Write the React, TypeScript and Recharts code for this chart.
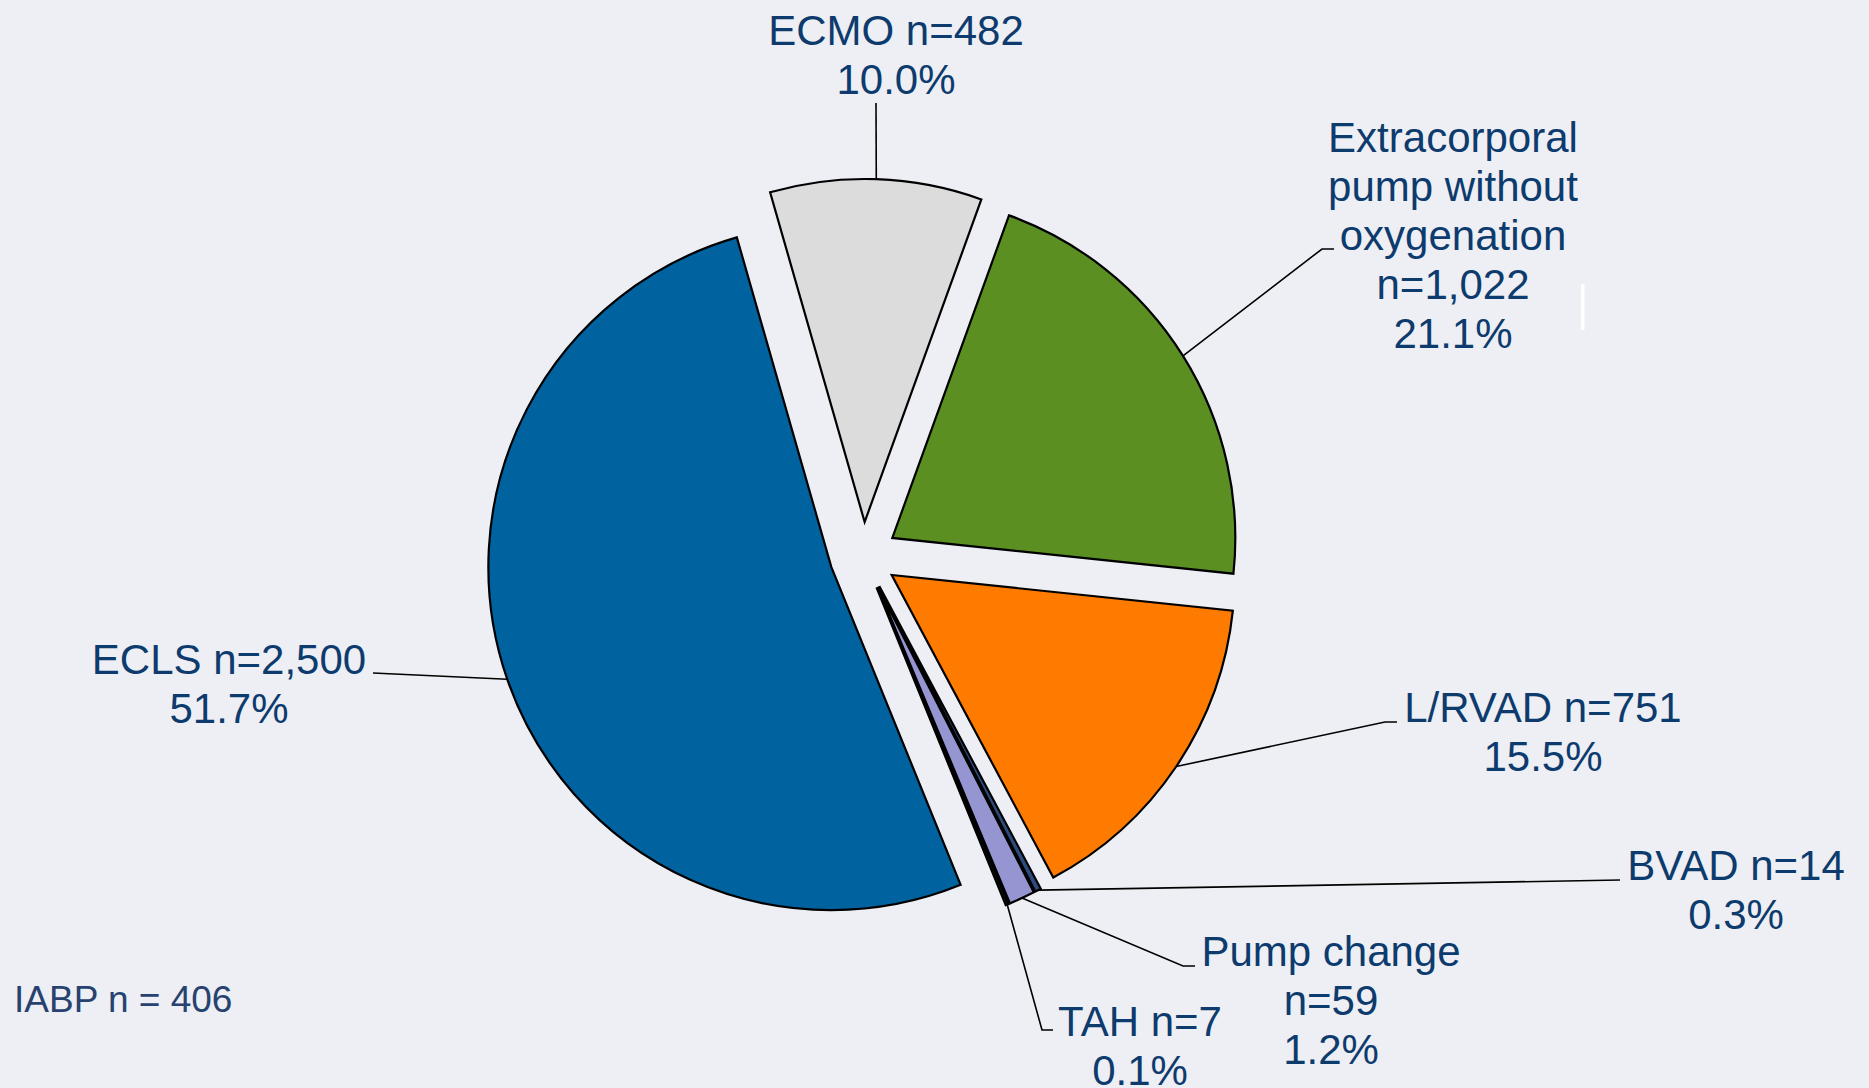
import React from 'react';
import { PieChart, Pie, Sector } from 'recharts';

// Pump types, clockwise from the top
const categories = ['ECMO', 'Extracorporal pump without oxygenation', 'L/RVAD', 'BVAD', 'Pump change', 'TAH', 'ECLS'];
const counts = [482, 1022, 751, 14, 59, 7, 2500];
const nameLines = [['ECMO'], ['Extracorporal', 'pump without', 'oxygenation'], ['L/RVAD'], ['BVAD'], ['Pump change'], ['TAH'], ['ECLS']];
const countOnOwnLine = [false, true, false, false, true, false, false];
const footnote = 'IABP n = 406';

const colors = ['#dcdcdc', '#5b8f22', '#ff7b00', '#2d4b7c', '#9595d1', '#111111', '#0063a0'];

// label layout (text anchor = centre x / first baseline, leader elbow, short tail)
const labelAnchors = [
  { x: 896, y: 45 },
  { x: 1453, y: 152 },
  { x: 1543, y: 722 },
  { x: 1736, y: 880 },
  { x: 1331, y: 966 },
  { x: 1140, y: 1036 },
  { x: 229, y: 674 },
];
const leaderElbows = [[876, 103], [1322, 249], [1385, 722], [1620, 880], [1183, 966], [1042, 1030], [373, 673]];
const leaderTails = [null, 1334, 1397, null, 1195, 1053, null];

const W = 1869;
const H = 1088;
const EXPLODE = 34;
const LINE_H = 49;
const TEXT_COLOR = '#0d3b6e';
const FONT = '"Liberation Sans", Arial, sans-serif';

const data = categories.map((name, i) => ({ name, value: counts[i] }));

function labelText(i: number, percent: number): string[] {
  const names = nameLines[i];
  const n = `n=${counts[i].toLocaleString('en-US')}`;
  const pct = `${(percent * 100).toFixed(1)}%`;
  if (countOnOwnLine[i]) return [...names, n, pct];
  return [...names.slice(0, -1), `${names[names.length - 1]} ${n}`, pct];
}

// the exploded slice, its leader line and its label
const renderSlice = (props: any) => {
  const { cx, cy, innerRadius, outerRadius, startAngle, endAngle, index, percent } = props;
  const mid = (startAngle + endAngle) / 2;
  const rad = (-mid * Math.PI) / 180;
  const ox = cx + EXPLODE * Math.cos(rad);
  const oy = cy + EXPLODE * Math.sin(rad);
  const ax = ox + outerRadius * Math.cos(rad);
  const ay = oy + outerRadius * Math.sin(rad);
  const [ex, ey] = leaderElbows[index];
  const tail = leaderTails[index];
  const pts = [`${ax},${ay}`, `${ex},${ey}`];
  if (tail != null) pts.push(`${tail},${ey}`);
  const anchor = labelAnchors[index];
  const lines = labelText(index, percent);

  return (
    <g>
      <Sector
        cx={ox}
        cy={oy}
        innerRadius={innerRadius}
        outerRadius={outerRadius}
        startAngle={startAngle}
        endAngle={endAngle}
        fill={colors[index]}
        stroke="#000"
        strokeWidth={2.2}
        strokeLinejoin="miter"
      />
      <polyline points={pts.join(' ')} fill="none" stroke="#000" strokeWidth={1.6} />
      <text textAnchor="middle" fill={TEXT_COLOR} fontSize={42} fontFamily={FONT} stroke="none">
        {lines.map((l, i) => (
          <tspan key={i} x={anchor.x} y={anchor.y + i * LINE_H}>
            {l}
          </tspan>
        ))}
      </text>
    </g>
  );
};

export default function App() {
  return (
    <div style={{ position: 'absolute', left: 0, top: 0, width: W, height: H, background: '#edeff4', overflow: 'hidden' }}>
      <PieChart width={W} height={H} margin={{ top: 0, right: 0, bottom: 0, left: 0 }}>
        <Pie
          data={data}
          dataKey="value"
          nameKey="name"
          cx={863.5}
          cy={556}
          innerRadius={0}
          outerRadius={343}
          startAngle={106}
          endAngle={-254}
          fill="none"
          stroke="none"
          label={renderSlice}
          labelLine={false}
          isAnimationActive={false}
        />
      </PieChart>
      <svg width={W} height={H} style={{ position: 'absolute', left: 0, top: 0, pointerEvents: 'none' }}>
        <rect x={1581} y={284} width={3.5} height={46} fill="#ffffff" />
        <text x={14} y={1012} fill="#27426f" fontSize={37} fontFamily={FONT}>
          {footnote}
        </text>
      </svg>
    </div>
  );
}
